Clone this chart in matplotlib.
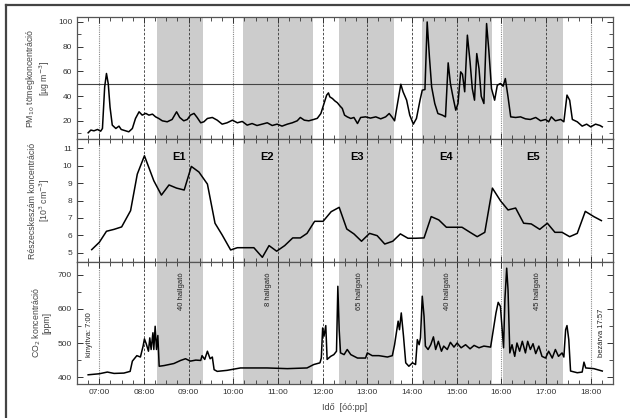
import numpy as np
import matplotlib
matplotlib.use("Agg")
import matplotlib.pyplot as plt
from matplotlib.lines import Line2D
from matplotlib.ticker import MultipleLocator

plt.rcParams['font.family'] = ['Liberation Sans', 'DejaVu Sans']

# --- data (time in decimal hours) ---
pm_t = [6.75, 6.81, 6.88, 6.96, 7.03, 7.07, 7.12, 7.16, 7.20, 7.24, 7.29, 7.37, 7.44, 7.49,
        7.59, 7.66, 7.74, 7.81, 7.89, 7.96, 8.04, 8.11, 8.19, 8.26, 8.33, 8.41, 8.52, 8.63,
        8.73, 8.80, 8.89, 8.97, 9.04, 9.12, 9.19, 9.27, 9.34, 9.42, 9.53, 9.64, 9.75, 9.86,
        9.98, 10.09, 10.20, 10.31, 10.42, 10.53, 10.65, 10.76, 10.87, 10.98, 11.09, 11.21,
        11.32, 11.43, 11.50, 11.59, 11.69, 11.80, 11.88, 11.96, 12.03, 12.09, 12.13, 12.16,
        12.22, 12.27, 12.33, 12.39, 12.44, 12.49, 12.55, 12.63, 12.70, 12.78, 12.85, 12.96,
        13.07, 13.19, 13.30, 13.41, 13.49, 13.56, 13.61, 13.69, 13.75, 13.80, 13.88, 13.95,
        14.03, 14.10, 14.18, 14.23, 14.29, 14.34, 14.39, 14.44, 14.51, 14.58, 14.68, 14.75,
        14.81, 14.86, 14.92, 14.98, 15.03, 15.09, 15.13, 15.18, 15.24, 15.30, 15.35, 15.40,
        15.45, 15.50, 15.55, 15.61, 15.67, 15.72, 15.78, 15.85, 15.91, 15.98, 16.04, 16.09,
        16.15, 16.21, 16.32, 16.43, 16.54, 16.65, 16.77, 16.88, 16.99, 17.06, 17.12, 17.21,
        17.33, 17.40, 17.47, 17.53, 17.59, 17.70, 17.81, 17.91, 18.00, 18.11, 18.21, 18.26]
pm_v = [10.3, 12.5, 11.9, 13.0, 11.6, 13.8, 47.5, 58.3, 50.0, 31.0, 16.5, 13.8, 15.7, 13.0,
        11.9, 11.1, 13.8, 21.9, 27.3, 24.6, 26.0, 24.6, 25.4, 23.2, 21.9, 20.0, 19.2, 21.1,
        27.3, 22.7, 20.0, 21.1, 24.6, 26.0, 22.7, 18.4, 19.2, 21.9, 22.7, 20.5, 17.3, 18.4,
        20.5, 18.4, 19.5, 16.5, 17.8, 16.2, 17.3, 18.4, 16.2, 17.3, 15.7, 17.3,
        18.4, 20.0, 22.7, 20.5, 20.0, 21.1, 22.0, 25.9, 34.0, 40.8, 42.6, 39.4,
        38.0, 36.2, 34.6, 31.9, 30.0, 24.6, 23.2, 21.9, 22.7, 17.8, 22.7, 23.2,
        22.2, 23.2, 21.6, 23.2, 25.9, 22.7, 20.0, 36.7, 49.6, 43.5, 36.7, 24.6,
        17.3, 21.9, 36.7, 44.8, 45.3, 100.0, 71.8, 47.5, 34.0, 25.9, 24.6, 23.2,
        66.9, 50.2, 38.9, 28.6, 34.0, 59.6, 57.7, 43.5, 89.3, 67.7, 46.1, 36.7,
        74.4, 62.3, 39.9, 34.0, 98.7, 77.1, 46.1, 36.7, 48.8, 50.2, 48.0, 54.2,
        39.4, 23.2, 22.7, 23.2, 21.6, 21.1, 22.7, 20.0, 21.1, 19.2, 23.2, 20.0,
        21.1, 19.2, 40.8, 36.7, 21.1, 19.2, 15.7, 17.3, 15.1, 17.3, 16.2, 15.1]

pn_t = [6.83, 7.00, 7.16, 7.33, 7.50, 7.70, 7.85, 8.01, 8.22, 8.39, 8.56, 8.73, 8.90, 9.06,
        9.23, 9.42, 9.59, 9.75, 9.94, 10.09, 10.27, 10.46, 10.65, 10.80, 10.97, 11.15, 11.33,
        11.50, 11.65, 11.82, 12.01, 12.19, 12.37, 12.54, 12.70, 12.87, 13.05, 13.22, 13.39,
        13.57, 13.74, 13.91, 14.08, 14.27, 14.43, 14.60, 14.77, 14.95, 15.12, 15.30, 15.46,
        15.63, 15.80, 15.98, 16.15, 16.32, 16.50, 16.67, 16.86, 17.03, 17.20, 17.36, 17.53,
        17.70, 17.88, 18.07, 18.24]
pn_v = [5.19, 5.61, 6.24, 6.35, 6.49, 7.42, 9.51, 10.56, 9.13, 8.31, 8.89, 8.71, 8.60, 9.95,
        9.63, 8.94, 6.70, 6.03, 5.17, 5.30, 5.30, 5.30, 4.75, 5.42, 5.10, 5.42, 5.86,
        5.86, 6.12, 6.81, 6.81, 7.36, 7.61, 6.37, 6.09, 5.67, 6.12, 5.99, 5.51,
        5.67, 6.09, 5.84, 5.84, 5.86, 7.08, 6.89, 6.47, 6.47, 6.47, 6.18, 5.93,
        6.18, 8.71, 7.99, 7.46, 7.57, 6.70, 6.66, 6.35, 6.70, 6.18, 6.18, 5.93,
        6.12, 7.38, 7.08, 6.85]

co2_t = [6.75, 7.00, 7.18, 7.33, 7.55, 7.69, 7.74, 7.84, 7.92, 7.98, 8.01, 8.05, 8.10, 8.13,
         8.16, 8.20, 8.22, 8.25, 8.28, 8.31, 8.34, 8.45, 8.56, 8.67, 8.82, 8.93, 9.04, 9.16,
         9.27, 9.30, 9.36, 9.42, 9.48, 9.53, 9.57, 9.64, 9.86, 10.16, 10.76, 11.21, 11.65,
         11.80, 11.94, 11.97, 12.00, 12.03, 12.07, 12.10, 12.18, 12.25, 12.31, 12.34, 12.37,
         12.40, 12.48, 12.55, 12.63, 12.78, 12.96, 13.00, 13.11, 13.26, 13.45, 13.56, 13.61,
         13.69, 13.72, 13.76, 13.81, 13.86, 13.93, 14.01, 14.08, 14.12, 14.16, 14.19, 14.23,
         14.27, 14.30, 14.36, 14.42, 14.48, 14.53, 14.59, 14.66, 14.71, 14.79, 14.86, 14.94,
         15.01, 15.10, 15.20, 15.30, 15.39, 15.50, 15.61, 15.76, 15.82, 15.88, 15.93, 15.98,
         16.02, 16.05, 16.08, 16.12, 16.15, 16.19, 16.24, 16.30, 16.35, 16.41, 16.47, 16.54,
         16.59, 16.65, 16.71, 16.77, 16.84, 16.91, 16.99, 17.06, 17.14, 17.21, 17.28, 17.36,
         17.40, 17.44, 17.47, 17.51, 17.55, 17.70, 17.81, 17.85, 17.89, 18.07, 18.26]
co2_v = [407, 410, 415, 411, 412, 417, 447, 463, 459, 491, 512, 498, 476, 515,
         481, 530, 481, 549, 481, 522, 432, 434, 437, 440, 449, 454, 447, 450,
         449, 463, 452, 476, 454, 459, 422, 417, 420, 427, 427, 425, 427,
         437, 442, 456, 544, 520, 551, 452, 461, 466, 476, 666, 539,
         471, 466, 481, 466, 456, 456, 471, 463, 463, 459, 463, 495,
         564, 539, 588, 520, 442, 432, 442, 437, 510, 495, 515, 637,
         578, 491, 481, 495, 518, 481, 505, 476, 491, 481, 502, 488,
         500, 486, 495, 483, 493, 486, 491, 488, 539, 588, 619, 607,
         539, 486, 627, 719, 656, 471, 495, 461, 500, 476, 505, 471,
         505, 481, 498, 469, 491, 461, 456, 476, 456, 481, 461, 471,
         459, 539, 551, 510, 418, 413, 415, 444, 427, 425, 418]

events = ['E1', 'E2', 'E3', 'E4', 'E5']
event_start = [8.30, 10.22, 12.37, 14.23, 16.04]
event_end = [9.33, 11.79, 13.60, 15.79, 17.38]
event_label_x = [8.79, 10.76, 12.77, 14.76, 16.71]
students = ['40 hallgató', '8 hallgató', '65 hallgató', '40 hallgató', '45 hallgató']
student_x = [8.83, 10.78, 12.82, 14.79, 16.80]

hours_dotted = [7, 10, 16, 18]
hours_dashed = [8, 9, 11, 12, 13, 14, 15, 17]
hour_ticks = list(range(7, 19))
hour_labels = ['07:00', '08:00', '09:00', '10:00', '11:00', '12:00',
               '13:00', '14:00', '15:00', '16:00', '17:00', '18:00']

# --- figure ---
fig, axes = plt.subplots(3, 1, sharex=True, figsize=(6.3, 4.18), dpi=100)
fig.subplots_adjust(left=0.1222, right=0.973, bottom=0.0813, top=0.9593, hspace=0)

ylabels = ['PM$_{10}$ tömegkoncentráció\n[µg m$^{-3}$]',
           'Részecskeszám koncentráció\n[10$^3$ cm$^{-3}$]',
           'CO$_2$ koncentráció\n[ppm]']
series = [(pm_t, pm_v), (pn_t, pn_v), (co2_t, co2_v)]
ylims = [(5, 104), (4.5, 11.5), (380, 738)]
ymajor = [20, 1, 100]
yminor = [10, 1, 50]

for ax, (t, v), lab, yl, mj, mn in zip(axes, series, ylabels, ylims, ymajor, yminor):
    for s, e in zip(event_start, event_end):
        ax.axvspan(s, e, color='#cccccc', lw=0, zorder=0)
    for h in hours_dotted:
        ax.axvline(h, color='#888888', ls=(0, (1, 1)), lw=0.8, zorder=1)
    for h in hours_dashed:
        ax.axvline(h, color='#333333', ls=(0, (3, 2)), lw=0.6, zorder=1)
    ax.plot(t, v, color='black', lw=1.1, zorder=3)
    ax.set_ylim(*yl)
    ax.yaxis.set_major_locator(MultipleLocator(mj))
    ax.yaxis.set_minor_locator(MultipleLocator(mn))
    ax.xaxis.set_minor_locator(MultipleLocator(0.25))
    ax.tick_params(which='both', direction='in', top=True, right=True,
                   labelsize=6, colors='#333333')
    ax.tick_params(which='major', length=4, width=0.7)
    ax.tick_params(which='minor', length=3, width=0.6)
    for sp in ax.spines.values():
        sp.set_color('#555555')
        sp.set_linewidth(0.9)
    ax.set_ylabel(lab, fontsize=6.3, color='#444444', linespacing=1.0)
    ax.yaxis.set_label_coords(-0.047, 0.5)

axes[0].axhline(50, color='#444444', lw=0.8, zorder=2)
axes[0].set_yticks([20, 40, 60, 80, 100])

for name, x in zip(events, event_label_x):
    axes[1].text(x, 10.5, name, fontsize=8, fontweight='bold', ha='center', va='center')

for name, x in zip(students, student_x):
    axes[2].text(x, 706, name, fontsize=5.5, rotation=90, ha='center', va='top', color='#222222')
axes[2].text(6.78, 460, 'kinyitva: 7:00', fontsize=5.5, rotation=90, ha='center', va='bottom', color='#222222')
axes[2].text(18.25, 460, 'bezárva 17:57', fontsize=5.5, rotation=90, ha='center', va='bottom', color='#222222')
axes[2].set_yticks([400, 500, 600, 700])

axes[2].set_xlim(6.5, 18.5)
axes[2].set_xticks(hour_ticks)
axes[2].set_xticklabels(hour_labels)
axes[2].set_xlabel('Idő  [óó:pp]', fontsize=6.5, color='#444444', labelpad=5)

# frame lines of the original figure (cropped on right and bottom)
fig.add_artist(Line2D([6 / 630, 6 / 630], [0, 1 - 5 / 418], color='#444444', lw=1.6))
fig.add_artist(Line2D([6 / 630, 1], [1 - 5 / 418, 1 - 5 / 418], color='#444444', lw=1.6))

fig.savefig('out.png', dpi=100)
